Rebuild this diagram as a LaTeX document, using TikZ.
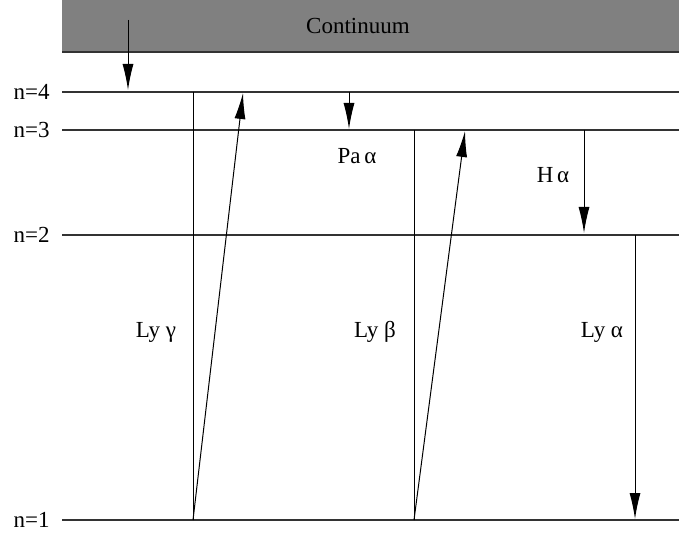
\documentclass[tikz,border=0pt]{standalone}
\usepackage{fontspec}
\setmainfont{Liberation Serif}
\usetikzlibrary{arrows.meta}
\begin{document}
\begin{tikzpicture}[x=0.5pt,y=-0.5pt,
  level/.style={line width=1pt,draw=black!80},
  vline/.style={line width=0.5pt},
  trans/.style={line width=0.5pt,-{Latex[length=13pt,width=5.5pt]}},
  lbl/.style={font=\fontsize{11.5}{14}\selectfont,inner sep=0pt},
  nlbl/.style={font=\fontsize{11.5}{14}\selectfont,inner sep=0pt,anchor=east}]
\useasboundingbox (0,0) rectangle (679,534);
% continuum
\fill[gray] (62,0) rectangle (679,52);
\coordinate (cl) at (62,52);
\coordinate (cr) at (679,52);
\draw[level] (cl) -- (cr);
\node[lbl] (cont) at (358,26) {Continuum};
% levels
\coordinate (l4a) at (62,92);  \coordinate (l4b) at (679,92);
\coordinate (l3a) at (62,130); \coordinate (l3b) at (679,130);
\coordinate (l2a) at (62,235); \coordinate (l2b) at (679,235);
\coordinate (l1a) at (62,520); \coordinate (l1b) at (679,520);
\draw[level] (l4a) -- (l4b);
\draw[level] (l3a) -- (l3b);
\draw[level] (l2a) -- (l2b);
\draw[level] (l1a) -- (l1b);
\node[nlbl] (n4) at (50,92) {n=4};
\node[nlbl] (n3) at (50,130) {n=3};
\node[nlbl] (n2) at (50,235) {n=2};
\node[nlbl] (n1) at (50,520) {n=1};
% recombination arrow
\coordinate (r0) at (128,20);
\coordinate (r1) at (128,90);
\draw[trans] (r0) -- (r1);
% Ly gamma
\coordinate (g1) at (193,520);
\coordinate (g4) at (193,92);
\coordinate (gt) at (243,93);
\draw[vline] (g4) -- (g1);
\draw[trans] (g1) -- (gt);
\node[lbl] (lyg) at (156,332) {Ly γ};
% Pa alpha
\coordinate (p4) at (349,92);
\coordinate (p3) at (349,129);
\draw[trans] (p4) -- (p3);
\node[lbl] (paa) at (357,156) {Pa\,α};
% Ly beta
\coordinate (b1) at (414,520);
\coordinate (b3) at (414,130);
\coordinate (bt) at (465,131);
\draw[vline] (b3) -- (b1);
\draw[trans] (b1) -- (bt);
\node[lbl] (lyb) at (375,332) {Ly β};
% H alpha
\coordinate (h3) at (584,130);
\coordinate (h2) at (584,233);
\draw[trans] (h3) -- (h2);
\node[lbl] (ha) at (553,175) {H\,α};
% Ly alpha
\coordinate (a2) at (635,235);
\coordinate (a1) at (635,519);
\draw[trans] (a2) -- (a1);
\node[lbl] (lya) at (602,332) {Ly α};
\end{tikzpicture}
\end{document}
